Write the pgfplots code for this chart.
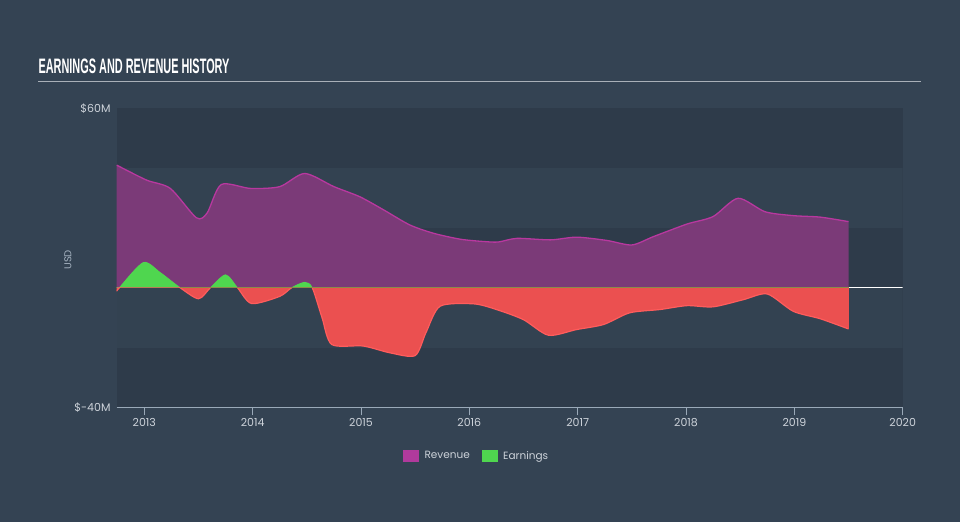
\documentclass[border=0pt]{standalone}
\usepackage{fontspec}
\setmainfont{Poppins}
\newfontfamily\titlefont{Liberation Sans}
\usepackage{graphicx}
\usepackage{pgfplots}
\pgfplotsset{compat=1.18}
\definecolor{bg}{HTML}{344353}
\definecolor{plotdark}{HTML}{2E3B4A}
\definecolor{bandlight}{HTML}{334251}
\definecolor{revfill}{HTML}{7B3A78}
\definecolor{revline}{HTML}{B8389F}
\definecolor{revleg}{HTML}{B03A9C}
\definecolor{earnpos}{HTML}{4FD64F}
\definecolor{earnneg}{HTML}{EB5050}
\definecolor{earnline}{HTML}{FF5C5C}
\definecolor{ticktext}{HTML}{CDD3DA}
\definecolor{axiscol}{HTML}{9AA9B8}
\definecolor{titleline}{HTML}{A9B0B8}
\definecolor{zeroolive}{HTML}{8C8A48}

\pgfplotstableread{
x y
2012.745 41
2013.02 36
2013.24 33.2
2013.48 23.4
2013.58 25
2013.71 34.5
2013.98 33.2
2014.25 33.8
2014.48 38.2
2014.75 33.8
2014.99 30.4
2015.21 26
2015.45 21
2015.67 18.2
2015.92 16.2
2016.15 15.4
2016.27 15.3
2016.44 16.5
2016.75 16
2016.99 16.9
2017.27 15.8
2017.50 14.3
2017.70 17.1
2018.01 21.3
2018.25 23.8
2018.48 29.9
2018.73 25.4
2018.99 24.1
2019.24 23.6
2019.50 22.1
}\revenue

\pgfplotstableread{
x y
2012.745 -1.2
2012.77 0
2012.99 8.4
2013.145 5.1
2013.33 0
2013.50 -3.7
2013.61 0
2013.75 4.3
2013.86 0
2013.99 -5.3
2014.25 -2.9
2014.36 0
2014.48 1.8
2014.55 0
2014.64 -10
2014.73 -19
2015.02 -19.5
2015.27 -21.8
2015.50 -22.7
2015.60 -15
2015.73 -6.2
2016.04 -5.4
2016.25 -7.3
2016.50 -10.7
2016.73 -15.9
2016.99 -14
2017.24 -12.3
2017.48 -8.4
2017.76 -7.3
2018.01 -6
2018.25 -6.4
2018.53 -4
2018.75 -2.1
2018.99 -7.9
2019.24 -10.4
2019.50 -13.8
}\earnings

\begin{document}
\begin{tikzpicture}
\path[use as bounding box] (0bp,0bp) rectangle (960bp,-522bp);
\fill[bg] (0bp,0bp) rectangle (960bp,-522bp);
\node[anchor=south west, inner sep=0pt, text=white] at (38.3bp,-74.3bp)
  {\resizebox{191bp}{14.6bp}{\titlefont\bfseries EARNINGS AND REVENUE HISTORY}};
\draw[titleline, line width=1.5bp] (38bp,-81.7bp) -- (921bp,-81.7bp);
\begin{axis}[
  at={(116.7bp,-407.3bp)}, anchor=south west,
  scale only axis, width=786bp, height=299bp,
  xmin=2012.745, xmax=2020, ymin=-40, ymax=60,
  axis background/.style={fill=plotdark},
  axis x line*=bottom, axis y line*=left,
  x axis line style={draw=axiscol, line width=1.2bp, -},
  y axis line style={draw=none},
  xtick={2013,2014,2015,2016,2017,2018,2019,2020},
  xticklabels={2013,2014,2015,2016,2017,2018,2019,2020},
  ytick={-40,60},
  yticklabels={\$-40M,\$60M},
  xtick align=outside,
  major tick length=8bp,
  every tick/.style={color=axiscol, line width=1bp},
  ytick style={draw=none},
  xticklabel style={font=\fontsize{11bp}{13bp}\selectfont, text=ticktext, anchor=north, inner sep=0pt, yshift=-3bp},
  yticklabel style={font=\fontsize{11bp}{13bp}\selectfont, text=ticktext, anchor=east, inner sep=0pt, xshift=-6bp},
  ylabel={USD},
  ylabel style={font=\fontsize{10bp}{12bp}\selectfont, text=axiscol!90!white, at={(axis description cs:0,0.493)}, anchor=center, yshift=48.7bp},
  legend style={at={(0.458,-0.163)}, anchor=center, draw=none, fill=none,
    font=\fontsize{10.5bp}{12bp}\selectfont, text=ticktext, legend columns=2,
    /tikz/every even column/.append style={column sep=10bp},
    legend cell align=left},
]
% bands
\addplot[forget plot, fill=bandlight, draw=none] coordinates {(2012.745,20) (2020,20) (2020,40) (2012.745,40)} -- cycle;
\addplot[forget plot, fill=bandlight, draw=none] coordinates {(2012.745,-20) (2020,-20) (2020,0) (2012.745,0)} -- cycle;
% zero line
\addplot[forget plot, draw=white, line width=1bp] coordinates {(2012.745,0) (2020,0)};
% revenue
\addplot[forget plot, smooth, tension=0.45, fill=revfill, draw=none] table {\revenue} \closedcycle;
\addplot[forget plot, smooth, tension=0.45, draw=revline, line width=1.3bp] table {\revenue};
% earnings positive
\begin{scope}
\clip (axis cs:2012,0) rectangle (axis cs:2021,61);
\addplot[forget plot, smooth, tension=0.45, fill=earnpos, draw=earnpos, line width=0.8bp] table {\earnings} \closedcycle;
\end{scope}
% earnings negative
\begin{scope}
\clip (axis cs:2012,-41) rectangle (axis cs:2021,0);
\addplot[forget plot, smooth, tension=0.45, fill=earnneg, draw=none] table {\earnings} \closedcycle;
\addplot[forget plot, smooth, tension=0.45, draw=earnline, line width=1.2bp] table {\earnings};
\end{scope}
\addplot[forget plot, draw=zeroolive, line width=1bp] coordinates {(2013.33,0) (2019.5,0)};
\addplot[forget plot, draw=earnneg, line width=1bp] coordinates {(2019.5,0) (2019.5,-13.8)};
\addlegendimage{legend image code/.code={\fill[revleg] (0bp,-5.5bp) rectangle (15bp,6bp); \path (19bp,0bp);}}
\addlegendentry{Revenue}
\addlegendimage{legend image code/.code={\fill[earnpos] (0bp,-5.5bp) rectangle (15bp,6bp); \path (19bp,0bp);}}
\addlegendentry{Earnings}
\end{axis}
\end{tikzpicture}
\end{document}
